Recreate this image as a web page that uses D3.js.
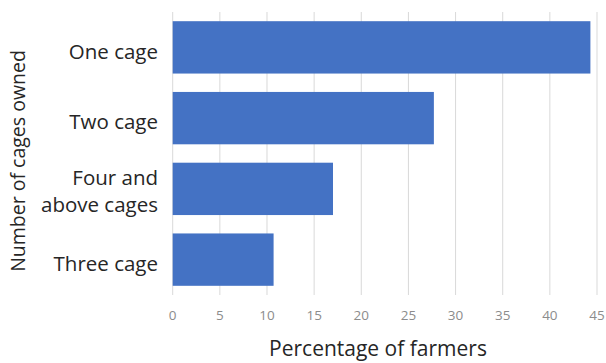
<!DOCTYPE html>
<html>
<head>
<meta charset="utf-8">
<script src="https://cdn.jsdelivr.net/npm/d3@7"></script>
<style>
  body { margin: 0; background: #fff; }
  text { font-family: "Open Sans", sans-serif; }
</style>
</head>
<body>
<div class="chart"></div>
<script>
const categories = ['One cage', 'Two cage', 'Four and above cages', 'Three cage']
const labelLines = [['One cage'], ['Two cage'], ['Four and', 'above cages'], ['Three cage']]
const values = [44.3, 27.7, 17.0, 10.7]
const ticks = [0, 5, 10, 15, 20, 25, 30, 35, 40, 45]

const width = 606, height = 363
const margin = { left: 172.7, right: 9, top: 12, bottom: 68 }

const svg = d3.select('.chart')
  .append('svg')
  .attr('width', width)
  .attr('height', height)

let x = d3.scaleLinear()
  .domain([0, 45])
  .range([margin.left, width - margin.right])

let y = d3.scaleBand()
  .domain(categories)
  .range([margin.top, height - margin.bottom])
  .paddingInner(0.26)
  .paddingOuter(0.13)

// gridlines
svg.append('g')
  .selectAll('line')
  .data(ticks)
  .enter()
  .append('line')
  .attr('x1', d => x(d))
  .attr('x2', d => x(d))
  .attr('y1', margin.top)
  .attr('y2', height - margin.bottom)
  .attr('stroke', '#d9d9d9')
  .attr('stroke-width', 1)

svg.append('g')
  .selectAll('rect')
  .data(values)
  .enter()
  .append('rect')
  .attr('x', x(0))
  .attr('y', (d, i) => y(categories[i]))
  .attr('width', d => x(d) - x(0))
  .attr('height', y.bandwidth())
  .attr('fill', '#4472c4')

// tick labels
svg.append('g')
  .selectAll('text')
  .data(ticks)
  .enter()
  .append('text')
  .attr('x', d => x(d))
  .attr('y', 320)
  .attr('text-anchor', 'middle')
  .attr('font-size', 13.5)
  .attr('fill', '#8c8c8c')
  .text(d => d)

// category labels
let cat = svg.append('g')
  .selectAll('text')
  .data(categories)
  .enter()
  .append('text')
  .attr('text-anchor', 'end')
  .attr('font-size', 20.5)
  .attr('fill', '#262626')
  .attr('x', 158)
  .attr('y', d => y(d) + y.bandwidth() / 2)

cat.each(function (d, i) {
  let lines = labelLines[i]
  let el = d3.select(this)
  lines.forEach((l, j) => {
    el.append('tspan')
      .attr('x', 158)
      .attr('dy', j === 0 ? (0.35 - (lines.length - 1) * 0.75) + 0.2 + 'em' : '1.35em')
      .text(l)
  })
})

svg.append('text')
  .attr('x', 378)
  .attr('y', 356)
  .attr('text-anchor', 'middle')
  .attr('font-size', 21)
  .attr('fill', '#262626')
  .text('Percentage of farmers')

svg.append('text')
  .attr('transform', 'translate(25,' + 161 + ') rotate(-90)')
  .attr('text-anchor', 'middle')
  .attr('font-size', 19.5)
  .attr('fill', '#262626')
  .text('Number of cages owned')
</script>
</body>
</html>
